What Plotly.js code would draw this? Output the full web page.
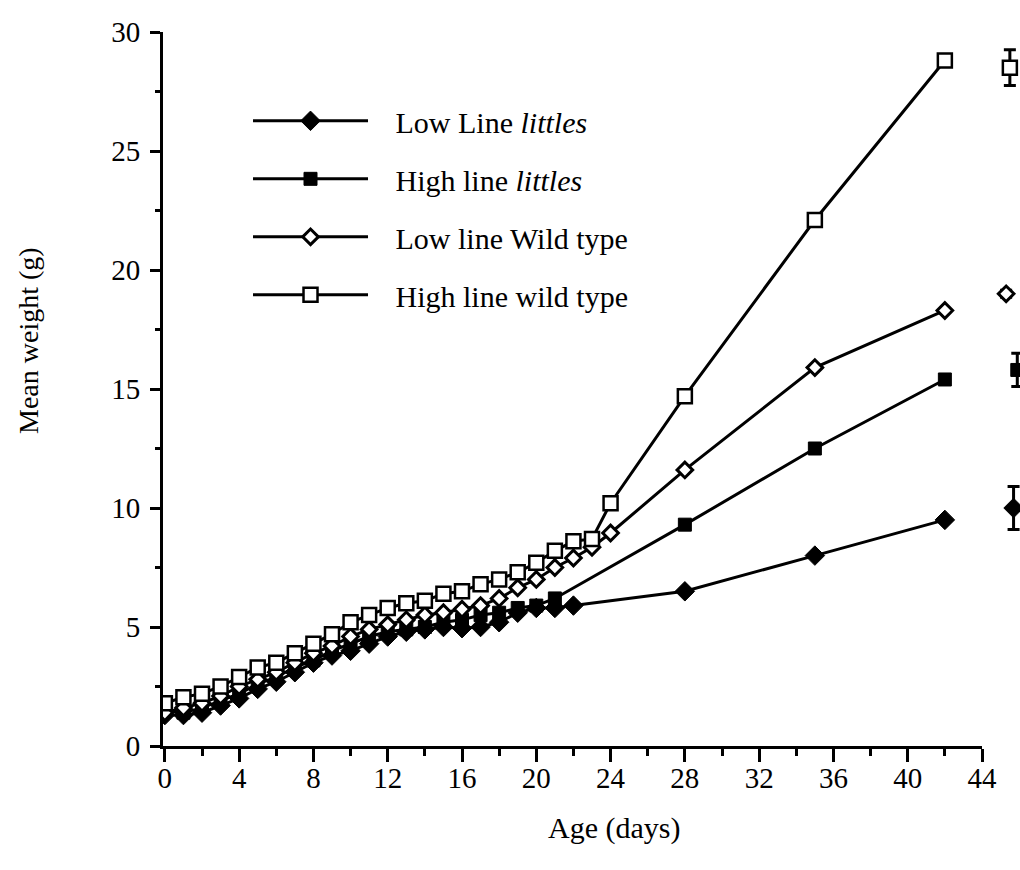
<!DOCTYPE html>
<html>
<head>
<meta charset="utf-8">
<script src="https://cdn.plot.ly/plotly-3.0.1.min.js"></script>
<style>html,body{margin:0;padding:0;background:#fff;}#chart{width:1020px;height:870px;}</style>
</head>
<body>
<div id="chart"></div>
<script>
const days = [0,1,2,3,4,5,6,7,8,9,10,11,12,13,14,15,16,17,18,19,20,21,22,23,24,28,35,42];
const lowLittlesDays = [0,1,2,3,4,5,6,7,8,9,10,11,12,13,14,15,16,17,18,19,20,21,22,28,35,42];
const lowLittles = [1.3,1.3,1.4,1.7,2.0,2.4,2.7,3.1,3.5,3.8,4.0,4.3,4.6,4.8,4.9,5.0,4.95,5.0,5.2,5.6,5.8,5.8,5.9,6.5,8.0,9.5];
const highLittlesDays = [0,1,2,3,4,5,6,7,8,9,10,11,12,13,14,15,16,17,18,19,20,21,28,35,42];
const highLittles = [1.5,1.4,1.6,1.9,2.2,2.6,2.9,3.3,3.6,4.0,4.3,4.6,4.8,4.9,5.0,5.2,5.3,5.5,5.6,5.8,5.9,6.2,9.3,12.5,15.4];
const lowWild = [1.4,1.6,1.8,2.1,2.5,2.8,3.1,3.5,3.9,4.2,4.6,4.9,5.1,5.3,5.5,5.6,5.75,5.9,6.2,6.65,7.0,7.5,7.9,8.35,8.95,11.6,15.9,18.3];
const highWild = [1.8,2.05,2.2,2.5,2.9,3.3,3.5,3.9,4.3,4.7,5.2,5.5,5.8,6.0,6.1,6.4,6.5,6.8,7.0,7.3,7.7,8.2,8.6,8.7,10.2,14.7,22.1,28.8];
// adult values with error bars, drawn just beyond the x axis end
const adultX = [45.7, 45.9, 45.3, 45.5];
const adultMean = [10.0, 15.8, 19.0, 28.5];
const adultErr = [0.9, 0.7, 0.15, 0.75];
const seriesNames = ['Low Line <i>littles</i>','High line <i>littles</i>','Low line Wild type','High line wild type'];
const xTickVals = [0,4,8,12,16,20,24,28,32,36,40,44];
const yTickVals = [0,5,10,15,20,25,30];

const lineStyle = {color:'#000', width:3};
const markers = [
  {symbol:'diamond', size:15, color:'#000', line:{color:'#000', width:1}},
  {symbol:'square', size:13, color:'#000', line:{color:'#000', width:1}},
  {symbol:'diamond', size:12, color:'#fff', line:{color:'#000', width:3}},
  {symbol:'square', size:14, color:'#fff', line:{color:'#000', width:2.5}}
];
const xs = [lowLittlesDays, highLittlesDays, days, days];
const ys = [lowLittles, highLittles, lowWild, highWild];
const pad = '\u00a0\u00a0\u00a0';

const traces = [];
for (let i = 0; i < 4; i++) {
  traces.push({
    x: xs[i], y: ys[i], type:'scatter', mode:'lines+markers', xaxis:'x', yaxis:'y',
    name: pad + seriesNames[i], line: lineStyle, marker: markers[i],
    legendgroup: 'g'+i, showlegend: true
  });
}
for (let i = 0; i < 4; i++) {
  traces.push({
    x: [adultX[i]], y: [adultMean[i]], type:'scatter', mode:'markers', xaxis:'x2', yaxis:'y',
    marker: markers[i], showlegend:false,
    error_y:{type:'data', array:[adultErr[i]], visible:true, color:'#000', thickness:3, width:6}
  });
}

const serif = '"Liberation Serif", "DejaVu Serif", serif';
const f = (s) => ({family:serif, color:'#000', size:s});
const plotW = 857, mainW = 819, pxPerDay = mainW / 44.1;
const layout = {
  width:1020, height:870,
  margin:{l:163, r:0, t:32, b:124},
  paper_bgcolor:'#fff', plot_bgcolor:'rgba(0,0,0,0)',
  font: f(28),
  showlegend:true,
  legend:{x:0.0992, y:0.912, xanchor:'left', yanchor:'top', bgcolor:'rgba(0,0,0,0)',
    font:f(30), itemwidth:115, tracegroupgap:16, traceorder:'grouped'},
  xaxis:{domain:[0, mainW/plotW], range:[-0.1,44], showgrid:false, zeroline:false, showline:true, linecolor:'#000', linewidth:3,
    tickmode:'array', tickvals:xTickVals, ticks:'outside', ticklen:13, tickwidth:3, tickcolor:'#000',
    minor:{tickmode:'linear', tick0:0, dtick:2, ticks:'outside', ticklen:7, tickwidth:3, tickcolor:'#000'},
    tickfont:f(29), ticklabelstandoff:-9},
  xaxis2:{domain:[0,1], range:[-0.1, -0.1 + plotW/pxPerDay], visible:false, anchor:'y', showgrid:false, zeroline:false},
  yaxis:{range:[0,30], showgrid:false, zeroline:false, showline:true, linecolor:'#000', linewidth:3,
    tickmode:'array', tickvals:yTickVals, ticks:'outside', ticklen:10, tickwidth:3, tickcolor:'#000',
    minor:{tickmode:'linear', tick0:0, dtick:2.5, ticks:'outside', ticklen:5, tickwidth:3, tickcolor:'#000'},
    tickfont:f(29), ticklabelstandoff:4},
  annotations:[
    {text:'Mean weight (g)', xref:'paper', yref:'paper', x:(28-163)/plotW, y:(746-341)/714, textangle:-90,
     showarrow:false, font:f(28), xanchor:'center', yanchor:'middle'},
    {text:'Age (days)', xref:'paper', yref:'paper', x:(614-163)/plotW, y:(746-828)/714,
     showarrow:false, font:f(30), xanchor:'center', yanchor:'middle'}
  ]
};
Plotly.newPlot('chart', traces, layout, {displayModeBar:false, staticPlot:true});
</script>
</body>
</html>
